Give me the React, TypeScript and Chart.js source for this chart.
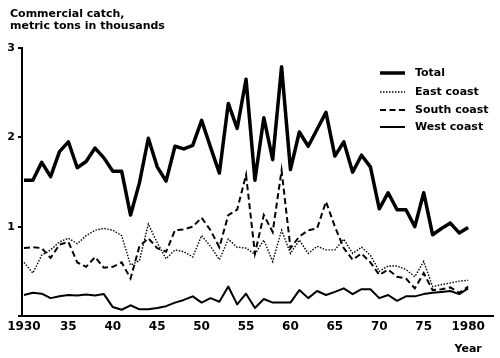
import React, { useEffect, useRef } from "react";
import { Chart, registerables } from "chart.js";

Chart.register(...registerables);

const years = [
  1930, 1931, 1932, 1933, 1934, 1935, 1936, 1937, 1938, 1939,
  1940, 1941, 1942, 1943, 1944, 1945, 1946, 1947, 1948, 1949,
  1950, 1951, 1952, 1953, 1954, 1955, 1956, 1957, 1958, 1959,
  1960, 1961, 1962, 1963, 1964, 1965, 1966, 1967, 1968, 1969,
  1970, 1971, 1972, 1973, 1974, 1975, 1976, 1977, 1978, 1979, 1980,
];

const total = [
  1.52, 1.52, 1.72, 1.56, 1.84, 1.95, 1.66, 1.73, 1.88, 1.77,
  1.62, 1.62, 1.13, 1.49, 1.99, 1.67, 1.51, 1.90, 1.87, 1.91,
  2.19, 1.89, 1.60, 2.38, 2.10, 2.65, 1.52, 2.22, 1.75, 2.79,
  1.64, 2.06, 1.90, 2.09, 2.28, 1.79, 1.95, 1.61, 1.80, 1.67,
  1.20, 1.38, 1.19, 1.19, 1.00, 1.38, 0.91, 0.98, 1.04, 0.93, 0.99,
];

const eastCoast = [
  0.60, 0.48, 0.68, 0.74, 0.83, 0.87, 0.81, 0.90, 0.96, 0.98,
  0.96, 0.90, 0.57, 0.62, 1.03, 0.82, 0.64, 0.74, 0.72, 0.66,
  0.90, 0.78, 0.63, 0.86, 0.77, 0.76, 0.69, 0.85, 0.61, 0.96,
  0.70, 0.85, 0.70, 0.78, 0.74, 0.74, 0.86, 0.70, 0.77, 0.68,
  0.50, 0.56, 0.56, 0.52, 0.44, 0.61, 0.33, 0.35, 0.37, 0.39, 0.40,
];

const southCoast = [
  0.76, 0.77, 0.76, 0.65, 0.80, 0.83, 0.60, 0.55, 0.66, 0.54,
  0.55, 0.60, 0.42, 0.78, 0.87, 0.76, 0.72, 0.96, 0.97, 1.00,
  1.10, 0.96, 0.77, 1.13, 1.19, 1.58, 0.70, 1.13, 0.94, 1.63,
  0.76, 0.89, 0.96, 0.98, 1.28, 1.00, 0.76, 0.63, 0.70, 0.60,
  0.46, 0.52, 0.44, 0.42, 0.31, 0.48, 0.29, 0.30, 0.32, 0.26, 0.33,
];

const westCoast = [
  0.235, 0.26, 0.25, 0.20, 0.22, 0.235, 0.23, 0.24, 0.23, 0.245,
  0.10, 0.07, 0.12, 0.075, 0.075, 0.09, 0.11, 0.15, 0.18, 0.22,
  0.15, 0.20, 0.16, 0.33, 0.13, 0.25, 0.09, 0.19, 0.15, 0.15,
  0.15, 0.29, 0.20, 0.28, 0.235, 0.27, 0.31, 0.245, 0.30, 0.30,
  0.20, 0.235, 0.17, 0.22, 0.22, 0.245, 0.26, 0.27, 0.28, 0.245, 0.31,
];

const seriesNames = ["Total", "East coast", "South coast", "West coast"];
const xTickValues = [1930, 1935, 1940, 1945, 1950, 1955, 1960, 1965, 1970, 1975, 1980];
const yTickValues = [0, 1, 2, 3];
const titleLines = ["Commercial catch,", "metric tons in thousands"];
const xAxisTitle = "Year";

const FONT = "'DejaVu Sans', sans-serif";

const decorPlugin = {
  id: "decor",
  afterDraw(chart: any) {
    const ctx = chart.ctx;
    ctx.save();
    ctx.fillStyle = "#000";
    ctx.font = `bold 11px ${FONT}`;
    ctx.textAlign = "left";
    ctx.textBaseline = "middle";
    ctx.fillText(titleLines[0], 10, 14);
    ctx.fillText(titleLines[1], 10, 26);

    // legend
    const ds = chart.data.datasets;
    const sx0 = 380;
    const sx1 = 405;
    const tx = 415;
    const ys = [73, 92, 110, 127];
    ds.forEach((d: any, i: number) => {
      ctx.save();
      ctx.strokeStyle = d.borderColor;
      ctx.lineWidth = d.borderWidth;
      ctx.setLineDash(d.borderDash || []);
      ctx.beginPath();
      ctx.moveTo(sx0, ys[i]);
      ctx.lineTo(sx1, ys[i]);
      ctx.stroke();
      ctx.restore();
      ctx.fillStyle = "#000";
      ctx.font = `bold 11px ${FONT}`;
      ctx.textAlign = "left";
      ctx.textBaseline = "middle";
      ctx.fillText(d.label, tx, ys[i]);
    });

    const xs = chart.scales.x;
    ctx.font = `bold 11px ${FONT}`;
    ctx.textAlign = "center";
    ctx.textBaseline = "middle";
    ctx.fillText(xAxisTitle, xs.getPixelForValue(1980), 349);
    ctx.restore();
  },
};

export default function App() {
  const ref = useRef<HTMLCanvasElement | null>(null);

  useEffect(() => {
    if (!ref.current) return;
    const mk = (arr: number[]) => arr.map((v, i) => ({ x: years[i], y: v }));
    const chart = new Chart(ref.current, {
      type: "line",
      data: {
        datasets: [
          {
            label: seriesNames[0],
            data: mk(total),
            borderColor: "#000",
            borderWidth: 3.5,
            pointRadius: 0,
            tension: 0,
            borderJoinStyle: "round",
          },
          {
            label: seriesNames[1],
            data: mk(eastCoast),
            borderColor: "#000",
            borderWidth: 1.4,
            borderDash: [1.5, 1.5],
            pointRadius: 0,
            tension: 0,
          },
          {
            label: seriesNames[2],
            data: mk(southCoast),
            borderColor: "#000",
            borderWidth: 2,
            borderDash: [6, 3.5],
            pointRadius: 0,
            tension: 0,
          },
          {
            label: seriesNames[3],
            data: mk(westCoast),
            borderColor: "#000",
            borderWidth: 2,
            pointRadius: 0,
            tension: 0,
            borderJoinStyle: "round",
          },
        ],
      },
      options: {
        animation: false,
        responsive: false,
        maintainAspectRatio: false,
        layout: { padding: { top: 48, right: 7, left: 0, bottom: 0 } },
        plugins: {
          legend: { display: false },
          tooltip: { enabled: false },
          title: { display: false },
        },
        scales: {
          x: {
            type: "linear",
            min: 1929.78,
            max: 1982.8,
            afterBuildTicks: (s: any) => {
              s.ticks = xTickValues.map((v) => ({ value: v }));
            },
            afterFit: (s: any) => {
              s.height = 42;
            },
            grid: { display: false, drawTicks: false },
            border: { display: true, color: "#000", width: 2 },
            ticks: {
              color: "#000",
              padding: 4,
              maxRotation: 0,
              autoSkip: false,
              font: { family: FONT, size: 12, weight: "bold" },
              callback: (v: any) => {
                const n = Number(v);
                return n === 1930 || n === 1980 ? String(n) : String(n).slice(2);
              },
            },
          },
          y: {
            min: 0,
            max: 3,
            afterBuildTicks: (s: any) => {
              s.ticks = yTickValues.map((v) => ({ value: v }));
            },
            afterFit: (s: any) => {
              s.width = 22;
            },
            grid: {
              drawOnChartArea: false,
              drawTicks: true,
              tickLength: 4,
              color: "#000",
              lineWidth: 2,
            },
            border: { display: true, color: "#000", width: 2 },
            ticks: {
              color: "#000",
              padding: 3,
              font: { family: FONT, size: 11, weight: "bold" },
              callback: (v: any) => (Number(v) === 0 ? "" : String(v)),
            },
          },
        },
      },
      plugins: [decorPlugin],
    } as any);
    return () => chart.destroy();
  }, []);

  return (
    <div style={{ position: "absolute", left: 0, top: 0, width: 500, height: 358, background: "#fff" }}>
      <canvas ref={ref} width={500} height={358} style={{ width: 500, height: 358, display: "block" }} />
    </div>
  );
}
